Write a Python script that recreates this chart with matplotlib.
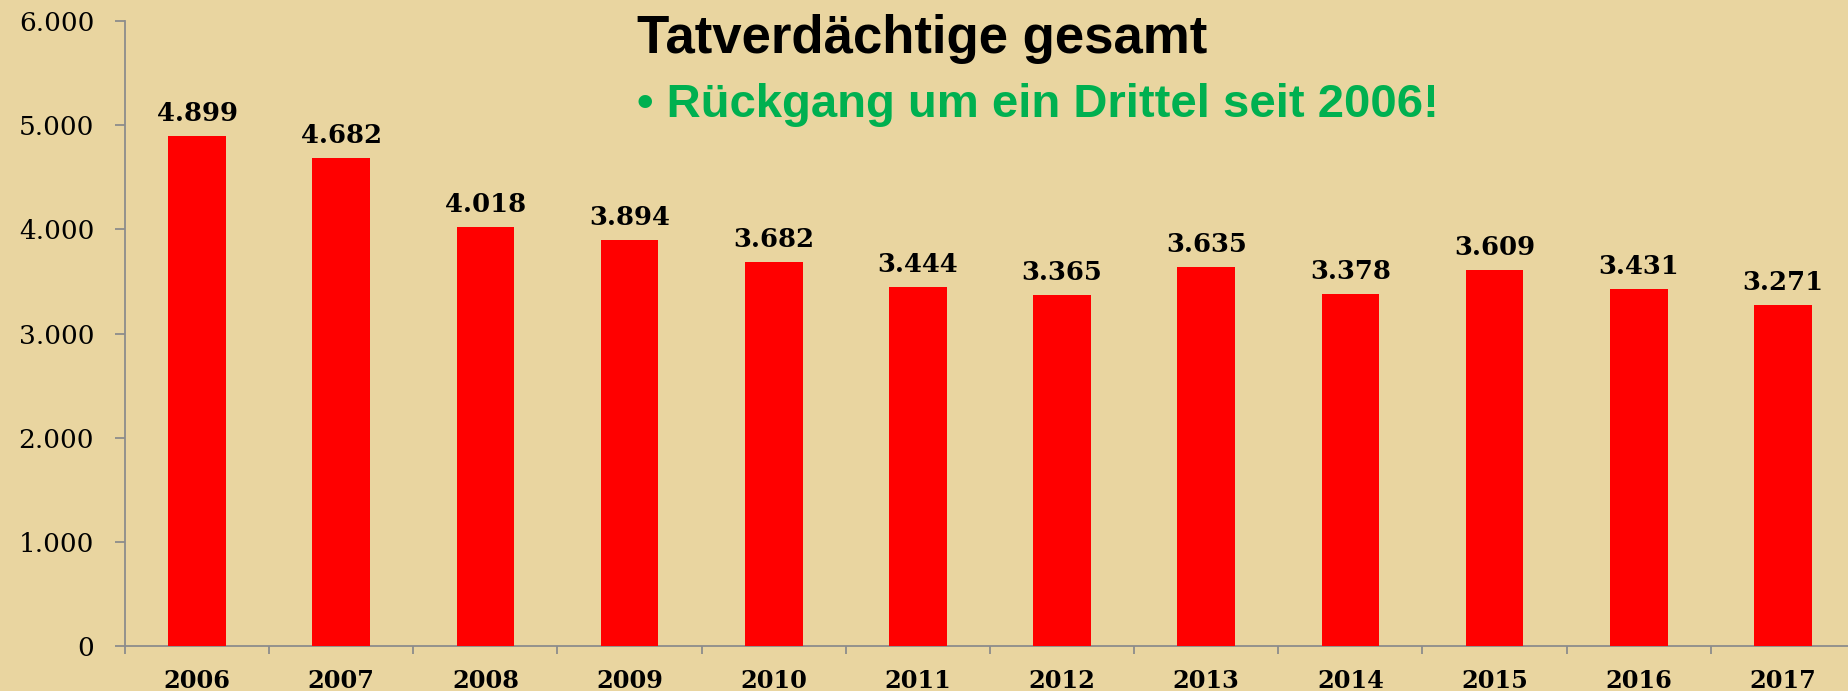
import matplotlib
matplotlib.use("Agg")
import matplotlib.pyplot as plt
import numpy as np

years = ["2006", "2007", "2008", "2009", "2010", "2011", "2012", "2013", "2014", "2015", "2016", "2017"]
values = [4899, 4682, 4018, 3894, 3682, 3444, 3365, 3635, 3378, 3609, 3431, 3271]
value_labels = ["4.899", "4.682", "4.018", "3.894", "3.682", "3.444", "3.365", "3.635", "3.378", "3.609", "3.431", "3.271"]
y_ticks = [0, 1000, 2000, 3000, 4000, 5000, 6000]
y_tick_labels = ["0", "1.000", "2.000", "3.000", "4.000", "5.000", "6.000"]
title = "Tatverdächtige gesamt"
subtitle = "\u2022 Rückgang um ein Drittel seit 2006!"

BG = "#E9D5A0"
W, H = 1849, 691
fig = plt.figure(figsize=(W / 100, H / 100), dpi=100)
fig.patch.set_facecolor(BG)

left, right = 125 / W, 1855 / W
bottom, top = (H - 646) / H, (H - 21) / H
ax = fig.add_axes([left, bottom, right - left, top - bottom])
ax.set_facecolor("none")

x = np.arange(len(years))
ax.bar(x, values, width=0.40, color="#FF0000", zorder=3)
ax.set_xlim(-0.5, len(years) - 0.5)
ax.set_ylim(0, 6000)

for xi, v, lab in zip(x, values, value_labels):
    ax.annotate(lab, (xi, v), xytext=(0, 10.8), textcoords="offset points",
                ha="center", va="baseline", fontsize=18.6, fontweight="bold",
                family="DejaVu Serif", color="black")

for s in ["top", "right"]:
    ax.spines[s].set_visible(False)
for s in ["left", "bottom"]:
    ax.spines[s].set_color("#8C8C8C")
    ax.spines[s].set_linewidth(1.3)

ax.set_yticks(y_ticks)
ax.set_yticklabels(y_tick_labels, family="DejaVu Serif", fontsize=19)
ax.tick_params(axis="y", length=7.2, width=1.3, color="#8C8C8C", pad=15)

ax.set_xticks(x)
ax.set_xticklabels(years, family="DejaVu Serif", fontsize=17.3, fontweight="bold")
ax.set_xticks(np.arange(-0.5, len(years), 1.0), minor=True)
ax.tick_params(axis="x", which="major", length=0, pad=16.5)
ax.tick_params(axis="x", which="minor", length=5.5, width=1.3, color="#8C8C8C")

fig.text(637 / W, (H - 53) / H, title, family="Liberation Sans", fontweight="bold",
         fontsize=38, color="black", ha="left", va="baseline")
fig.text(637 / W, (H - 117) / H, subtitle, family="Liberation Sans", fontweight="bold",
         fontsize=34, color="#00B050", ha="left", va="baseline")

fig.savefig("out.png", dpi=100, facecolor=BG)
